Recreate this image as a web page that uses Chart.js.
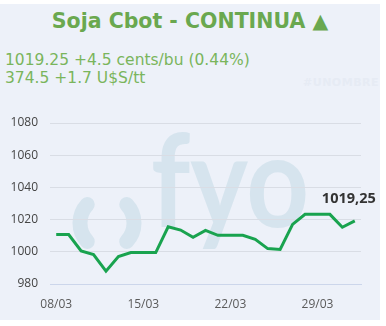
<!DOCTYPE html>
<html>
<head>
<meta charset="utf-8">
<script src="https://cdn.jsdelivr.net/npm/chart.js@4.4.1/dist/chart.umd.min.js"></script>
<style>
  html, body { margin: 0; padding: 0; background: #fff; }
  body { width: 386px; height: 326px; position: relative; overflow: hidden; }
  .panel { position: absolute; left: 0; top: 4px; width: 380px; height: 316px; background: #edf1f9; }
  .title { position: absolute; left: 0; top: 9px; width: 380px; text-align: center;
    font: bold 20.5px 'DejaVu Sans', sans-serif; color: #6aa84f; line-height: 24px; }
  .sub { position: absolute; left: 5px; font: 15.5px 'DejaVu Sans', sans-serif; color: #7ab55c; line-height: 18px; white-space: nowrap; }
  .tag { position: absolute; left: 303px; top: 76px; font: bold 11px 'DejaVu Sans', sans-serif; color: #e6ebf4; letter-spacing: 0.5px; }
  canvas { position: absolute; left: 0; top: 0; }
</style>
</head>
<body>
<div class="panel"></div>
<div class="title">Soja Cbot - CONTINUA ▲</div>
<div class="sub" style="top:51px">1019.25 +4.5 cents/bu (0.44%)</div>
<div class="sub" style="top:69px">374.5 +1.7 U$S/tt</div>
<div class="tag">#UNOMBRE</div>
<canvas id="chart" width="386" height="326"></canvas>
<script>
// Data
const dates = ['08/03', '09/03', '10/03', '11/03', '12/03', '13/03', '14/03',
  '15/03', '16/03', '17/03', '18/03', '19/03', '20/03', '21/03',
  '22/03', '23/03', '24/03', '25/03', '26/03', '27/03', '28/03',
  '29/03', '30/03', '31/03', '01/04'];
const prices = [1010.75, 1010.75, 1000.5, 998.25, 988, 997, 999.5,
  999.5, 999.5, 1015.5, 1013.5, 1009, 1013.25, 1010.25,
  1010.25, 1010.25, 1007.75, 1002, 1001.5, 1017, 1023.25,
  1023.25, 1023.25, 1015.25, 1019.25];
const yTicks = [980, 1000, 1020, 1040, 1060, 1080];
const labelEvery = 7;

const lastLabel = prices[prices.length - 1].toFixed(2).replace('.', ',');

Chart.defaults.font.family = "'Open Sans', sans-serif";
Chart.defaults.font.size = 12;

// light "fyo" logo behind the plot
const watermark = {
  id: 'watermark',
  beforeDraw(chart) {
    const c = chart.ctx;
    c.save();
    c.strokeStyle = '#d6e4ee';
    c.fillStyle = '#d6e4ee';
    c.lineWidth = 15;
    c.lineCap = 'round';
    c.beginPath();
    c.arc(107, 223, 27, Math.PI - 0.75, Math.PI + 0.75);
    c.stroke();
    c.beginPath();
    c.arc(107, 223, 27, -0.75, 0.75);
    c.stroke();
    c.font = "bold 128px 'Lato', sans-serif";
    c.textBaseline = 'alphabetic';
    const w = c.measureText('fyo').width;
    c.translate(151, 227);
    c.scale(158 / w, 1);
    c.fillText('fyo', 0, 0);
    c.restore();
  }
};

// bold value above the last point
const lastValue = {
  id: 'lastValue',
  afterDatasetsDraw(chart) {
    const pt = chart.getDatasetMeta(0).data[prices.length - 1];
    const c = chart.ctx;
    c.save();
    c.font = "bold 14.5px 'Open Sans', sans-serif";
    c.fillStyle = '#333333';
    c.textAlign = 'center';
    c.textBaseline = 'middle';
    c.fillText(lastLabel, pt.x - 6, pt.y - 22);
    c.restore();
  }
};

new Chart(document.getElementById('chart'), {
  type: 'line',
  data: {
    labels: dates,
    datasets: [{
      data: prices,
      borderColor: '#19a34f',
      borderWidth: 3,
      pointRadius: 0,
      tension: 0,
      fill: false
    }]
  },
  plugins: [watermark, lastValue],
  options: {
    responsive: false,
    devicePixelRatio: 1,
    animation: false,
    layout: { padding: { top: 123, left: 0, right: 25, bottom: 12 } },
    plugins: { legend: { display: false }, tooltip: { enabled: false } },
    scales: {
      y: {
        min: yTicks[0],
        max: yTicks[yTicks.length - 1],
        afterFit(scale) { scale.width = 50; },
        afterBuildTicks(scale) { scale.ticks = yTicks.map(v => ({ value: v })); },
        ticks: { color: '#444444', padding: 12, callback: v => String(v) },
        grid: { color: '#d9dde5', drawTicks: false },
        border: { display: false }
      },
      x: {
        offset: true,
        afterFit(scale) { scale.height = 30; },
        ticks: {
          autoSkip: false,
          maxRotation: 0,
          color: '#5a5a5a',
          padding: 8,
          callback: (v, i) => (i % labelEvery === 0 ? dates[i] : null)
        },
        grid: {
          offset: true,
          drawOnChartArea: false,
          tickLength: 5,
          color: ctx => (ctx.index !== undefined && ctx.index % labelEvery === 0 ? '#ccd6eb' : 'rgba(0,0,0,0)')
        },
        border: { display: true, color: '#ccd6eb' }
      }
    }
  }
});
</script>
</body>
</html>
